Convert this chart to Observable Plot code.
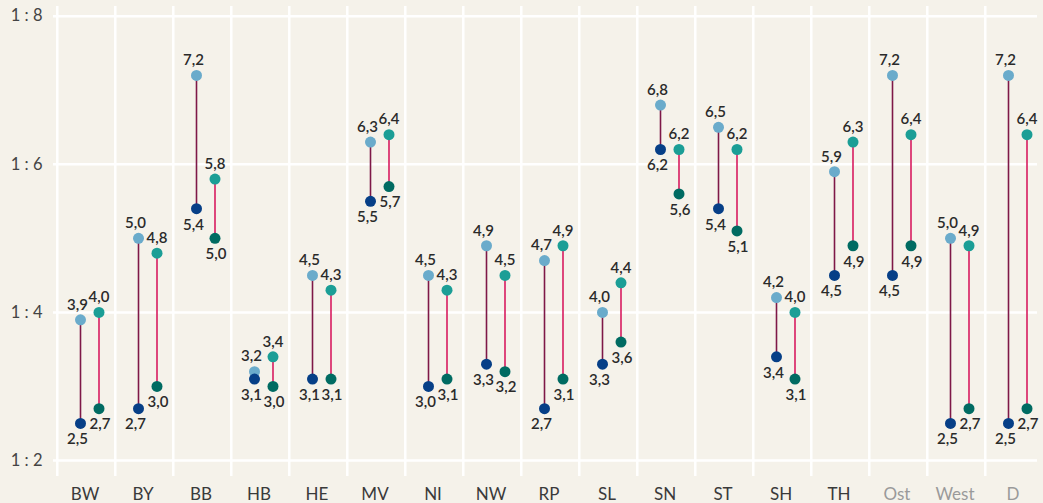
<!DOCTYPE html>
<html>
<head>
<meta charset="utf-8">
<script src="https://cdn.jsdelivr.net/npm/d3@7"></script>
<script src="https://cdn.jsdelivr.net/npm/@observablehq/plot@0.6"></script>
<style>
  html, body { margin: 0; padding: 0; background: #f5f2ea; }
  #chart svg { display: block; background: #f5f2ea; }
</style>
</head>
<body>
<div id="chart"></div>
<script>
const categories = ["BW","BY","BB","HB","HE","MV","NI","NW","RP","SL","SN","ST","SH","TH","Ost","West","D"];
const summaryCategories = ["Ost","West","D"];
const leftTop     = [3.9,5.0,7.2,3.2,4.5,6.3,4.5,4.9,4.7,4.0,6.8,6.5,4.2,5.9,7.2,5.0,7.2];
const leftBottom  = [2.5,2.7,5.4,3.1,3.1,5.5,3.0,3.3,2.7,3.3,6.2,5.4,3.4,4.5,4.5,2.5,2.5];
const rightTop    = [4.0,4.8,5.8,3.4,4.3,6.4,4.3,4.5,4.9,4.4,6.2,6.2,4.0,6.3,6.4,4.9,6.4];
const rightBottom = [2.7,3.0,5.0,3.0,3.1,5.7,3.1,3.2,3.1,3.6,5.6,5.1,3.1,4.9,4.9,2.7,2.7];
const yTicks = [2,4,6,8];
const yTickLabels = ["1 : 2","1 : 4","1 : 6","1 : 8"];

const rows = categories.map((c, i) => ({
  cat: c, lt: leftTop[i], lb: leftBottom[i], rt: rightTop[i], rb: rightBottom[i]
}));
const yRows = yTicks.map((v, i) => ({v, label: yTickLabels[i]}));

const fmt = v => v.toFixed(1).replace(".", ",");
const xRange = [53, 1046];
const bw = (xRange[1] - xRange[0]) / categories.length;
const dxL = -6, dxR = 12.5;
const font = "Lato, 'Noto Sans', sans-serif";
const labelStyle = {fontSize: 15, fontWeight: 600, fill: "#2a2a2a", fontFamily: font};

const chart = Plot.plot({
  width: 1043,
  height: 503,
  marginLeft: 53,
  marginRight: 6,
  marginTop: 6,
  marginBottom: 27,
  style: {background: "#f5f2ea", fontFamily: font},
  x: {type: "band", domain: categories, range: xRange, padding: 0, axis: null},
  y: {domain: [2, 8], range: [460, 15.7], axis: null},
  marks: [
    // grid
    Plot.ruleY(yTicks, {y: d => d, stroke: "white", strokeWidth: 2.5}),
    Plot.ruleX(categories, {x: d => d, dx: -bw / 2, stroke: "white", strokeWidth: 2.5}),
    // axes
    Plot.text(yRows, {y: "v", text: "label", frameAnchor: "left", textAnchor: "end", dx: -11,
      fontSize: 16.5, fill: "#444", fontFamily: font}),
    Plot.text(categories, {x: d => d, frameAnchor: "bottom", lineAnchor: "top", dy: 11, dx: -1.5,
      fill: d => summaryCategories.includes(d) ? "#9a9a9a" : "#3a3a3a", fontSize: 17, fontFamily: font}),
    // ranges
    Plot.ruleX(rows, {x: "cat", y1: "lb", y2: "lt", dx: dxL, stroke: "#7e1848", strokeWidth: 1.6}),
    Plot.ruleX(rows, {x: "cat", y1: "rb", y2: "rt", dx: dxR, stroke: "#d81b60", strokeWidth: 1.6}),
    // dots
    Plot.dot(rows, {x: "cat", y: "lt", dx: dxL, r: 5.5, fill: "#6aabcb"}),
    Plot.dot(rows, {x: "cat", y: "lb", dx: dxL, r: 5.5, fill: "#063f87"}),
    Plot.dot(rows, {x: "cat", y: "rt", dx: dxR, r: 5.5, fill: "#1b9e96"}),
    Plot.dot(rows, {x: "cat", y: "rb", dx: dxR, r: 5.5, fill: "#006b62"}),
    // labels
    Plot.text(rows, {...labelStyle, x: "cat", y: "lt", text: d => fmt(d.lt), dx: dxL - 3, dy: -15}),
    Plot.text(rows, {...labelStyle, x: "cat", y: "rt", text: d => fmt(d.rt), dx: dxR, dy: -15}),
    Plot.text(rows, {...labelStyle, x: "cat", y: "lb", text: d => fmt(d.lb), dx: dxL - 3, dy: 16}),
    Plot.text(rows, {...labelStyle, x: "cat", y: "rb", text: d => fmt(d.rb), dx: dxR + 1, dy: 16})
  ]
});
document.getElementById("chart").appendChild(chart);
</script>
</body>
</html>
